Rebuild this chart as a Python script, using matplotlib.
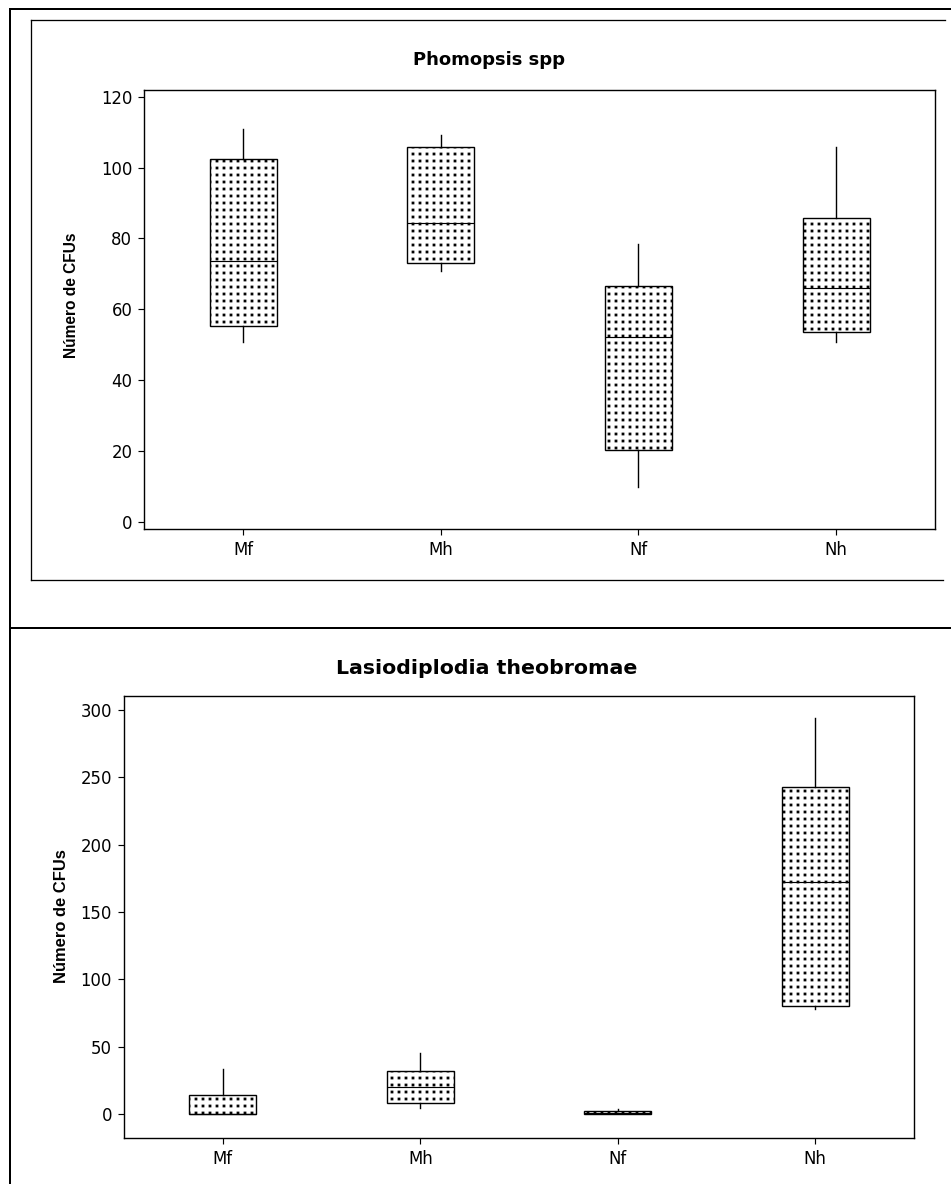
import matplotlib
matplotlib.use("Agg")
import matplotlib.pyplot as plt
import numpy as np
from matplotlib import hatch as mhatch

# tamaño de la imagen en pixeles, dpi 84 para que el punteado quede cada ~7 px
W = 951
H = 1184
DPI = 84

grupos = ["Mf", "Mh", "Nf", "Nh"]

# Phomopsis spp: minimo, q1, mediana, q3, maximo
phom_min = [50.7, 70.9, 9.9, 50.7]
phom_q1 = [55.3, 73.1, 20.3, 53.7]
phom_med = [73.6, 84.3, 52.1, 66.1]
phom_q3 = [102.5, 105.8, 66.6, 85.7]
phom_max = [110.8, 109.2, 78.4, 105.9]

# Lasiodiplodia theobromae
lasi_min = [0, 4.2, 0, 77.7]
lasi_q1 = [0, 8.4, 0, 80.4]
lasi_med = [0, 20.3, 1, 172]
lasi_q3 = [14.3, 31.7, 2.5, 242.8]
lasi_max = [33.2, 45, 3.5, 294]


# el punteado de matplotlib va en filas alternadas; aqui en reticula cuadrada
class PuntosReticula(mhatch.Circles):
    size = 0.28
    filled = True

    def __init__(self, hatch, density):
        self.num_rows = hatch.count(".") * density
        path = matplotlib.path.Path.unit_rectangle()
        self.shape_vertices = path.vertices - 0.5
        self.shape_codes = path.codes
        self.num_vertices = (self.num_rows + 1) ** 2 * len(self.shape_vertices)

    def set_vertices_and_codes(self, vertices, codes):
        offset = 1.0 / self.num_rows
        sv = self.shape_vertices * offset * self.size
        partes_v = []
        partes_c = []
        for row in range(self.num_rows + 1):
            for col in np.linspace(0, 1, self.num_rows + 1):
                partes_v.append(sv + [col, row * offset])
                partes_c.append(self.shape_codes)
        np.concatenate(partes_v, out=vertices)
        np.concatenate(partes_c, out=codes)


mhatch._hatch_types = [PuntosReticula if t is mhatch.SmallFilledCircles else t
                       for t in mhatch._hatch_types]


def pt(px):
    return px * 72.0 / DPI


def stats(mins, q1s, meds, q3s, maxs):
    out = []
    for i in range(len(grupos)):
        out.append({"whislo": mins[i], "q1": q1s[i], "med": meds[i],
                    "q3": q3s[i], "whishi": maxs[i], "fliers": [],
                    "label": grupos[i]})
    return out


def caja(rect, st, ylim, yticks):
    ax = fig.add_axes([rect[0] / W, 1 - rect[3] / H,
                       (rect[2] - rect[0]) / W, (rect[3] - rect[1]) / H])
    ax.bxp(st, widths=0.34, patch_artist=True, showcaps=False,
           boxprops=dict(facecolor="white", edgecolor="black",
                         linewidth=1.2, hatch=".."),
           whiskerprops=dict(color="black", linewidth=1.2),
           medianprops=dict(color="black", linewidth=1.0))
    ax.set_xlim(0.5, 4.5)
    ax.set_ylim(ylim)
    ax.set_yticks(yticks)
    for s in ax.spines.values():
        s.set_linewidth(1.2)
    ax.tick_params(direction="out", length=pt(6), width=1, pad=pt(6),
                   labelsize=pt(16.5), colors="black")
    ax.set_facecolor("white")
    return ax


plt.rcParams["font.family"] = ["DejaVu Sans"]
plt.rcParams["hatch.linewidth"] = 0.7

fig = plt.figure(figsize=(W / DPI, H / DPI), dpi=DPI)

# marcos de fondo (coordenadas en pixeles)
bg = fig.add_axes([0, 0, 1, 1])
bg.set_xlim(0, W)
bg.set_ylim(H, 0)
bg.axis("off")
bg.plot([10, W], [9, 9], color="black", lw=pt(2))
bg.plot([10, 10], [9, H], color="black", lw=pt(2))
bg.plot([10, W], [628, 628], color="black", lw=pt(2))
bg.plot([31, 945], [20, 20], color="black", lw=pt(1.3))
bg.plot([31, 31], [20, 580], color="black", lw=pt(1.3))
bg.plot([31, 943], [580, 580], color="black", lw=pt(1.3))

ax1 = caja((144.3, 90, 935, 529),
           stats(phom_min, phom_q1, phom_med, phom_q3, phom_max),
           (-2.06, 121.9), [0, 20, 40, 60, 80, 100, 120])
ax2 = caja((124, 696, 914, 1138),
           stats(lasi_min, lasi_q1, lasi_med, lasi_q3, lasi_max),
           (-17.8, 310.3), [0, 50, 100, 150, 200, 250, 300])

fig.text(489 / W, 1 - 60 / H, "Phomopsis spp", ha="center", va="center",
         fontsize=pt(18), fontweight="bold")
fig.text(487 / W, 1 - 669 / H, "Lasiodiplodia theobromae", ha="center",
         va="center", fontsize=pt(20.5), fontweight="bold")

fig.text(72 / W, 1 - 295 / H, "Número de CFUs", rotation=90, ha="center",
         va="center", fontsize=pt(15.5), fontweight="bold",
         family=["Liberation Sans", "DejaVu Sans"])
fig.text(62 / W, 1 - 916 / H, "Número de CFUs", rotation=90, ha="center",
         va="center", fontsize=pt(16.5), fontweight="bold",
         family=["Liberation Sans", "DejaVu Sans"])

fig.savefig("out.png", dpi=DPI, facecolor="white")
